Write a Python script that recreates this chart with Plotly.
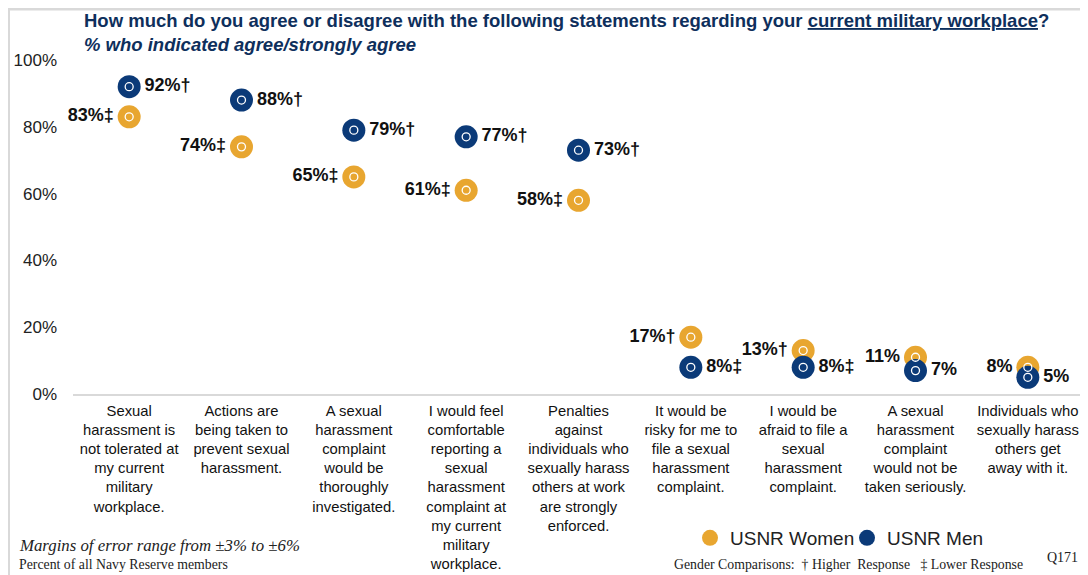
import plotly.graph_objects as go

statements = [
    "Sexual<br>harassment is<br>not tolerated at<br>my current<br>military<br>workplace.",
    "Actions are<br>being taken to<br>prevent sexual<br>harassment.",
    "A sexual<br>harassment<br>complaint<br>would be<br>thoroughly<br>investigated.",
    "I would feel<br>comfortable<br>reporting a<br>sexual<br>harassment<br>complaint at<br>my current<br>military<br>workplace.",
    "Penalties<br>against<br>individuals who<br>sexually harass<br>others at work<br>are strongly<br>enforced.",
    "It would be<br>risky for me to<br>file a sexual<br>harassment<br>complaint.",
    "I would be<br>afraid to file a<br>sexual<br>harassment<br>complaint.",
    "A sexual<br>harassment<br>complaint<br>would not be<br>taken seriously.",
    "Individuals who<br>sexually harass<br>others get<br>away with it.",
]
women = [83, 74, 65, 61, 58, 17, 13, 11, 8]
men = [92, 88, 79, 77, 73, 8, 8, 7, 5]
women_labels = ["83%‡", "74%‡", "65%‡", "61%‡", "58%‡", "17%†", "13%†", "11%", "8%"]
men_labels = ["92%†", "88%†", "79%†", "77%†", "73%†", "8%‡", "8%‡", "7%", "5%"]
y_ticks = [0, 20, 40, 60, 80, 100]

GOLD = "#E8A630"
NAVY = "#0B3A78"
TITLE = "#0E2F5C"
label_font = dict(family="Liberation Sans, Arial", size=18, color="#111111")

# the page puts the figure 8px in from the top-left corner
OFF = 8
W, H = 1088 - OFF, 575 - OFF
# plot area in page pixels: x 73..1084, y 60..394
L, R, T, B = 73, 1084, 60, 394


def px(x):
    return (x - L) / (R - L)


def py(y):
    return (B - y) / (B - T)


fig = go.Figure()

fig.add_trace(go.Scatter(
    x=statements, y=women, mode="markers+text", name="USNR Women",
    marker=dict(color=GOLD, size=23),
    text=["<b>%s</b>" % t for t in women_labels], textposition="middle left",
    textfont=label_font, cliponaxis=False, legend="legend",
))
fig.add_trace(go.Scatter(
    x=statements, y=men, mode="markers+text", name="USNR Men",
    marker=dict(color=NAVY, size=23),
    text=["<b>%s</b>" % t for t in men_labels], textposition="middle right",
    textfont=label_font, cliponaxis=False, legend="legend2",
))
# small white rings in the middle of the dots
for vals in (women, men):
    fig.add_trace(go.Scatter(
        x=statements, y=vals, mode="markers", showlegend=False, hoverinfo="skip",
        marker=dict(symbol="circle-open", size=8, color="white", line=dict(width=1.3)),
        cliponaxis=False,
    ))

legend_style = dict(
    orientation="h", y=py(538), xanchor="left", yanchor="middle",
    font=dict(size=19, color="#222222"), itemwidth=30,
    bgcolor="rgba(0,0,0,0)",
)
fig.update_layout(
    width=W, height=H,
    margin=dict(l=L - OFF, r=1088 - R, t=T - OFF, b=575 - B, autoexpand=False),
    plot_bgcolor="white", paper_bgcolor="white",
    font=dict(family="Liberation Sans, Arial", color="#222222"),
    legend=dict(x=px(690), **legend_style),
    legend2=dict(x=px(847), **legend_style),
)
fig.update_xaxes(
    range=[-0.5, len(statements) - 0.5],
    showgrid=False, showline=True, linecolor="#d9d9d9", linewidth=1.5,
    ticks="", tickfont=dict(size=14.8, color="#111111"), ticklabelstandoff=2,
    automargin=False,
)
fig.update_yaxes(
    range=[0, 100], tickvals=y_ticks, ticktext=["%d%%" % v for v in y_ticks],
    showgrid=False, zeroline=False, showline=False, ticks="",
    tickfont=dict(size=17, color="#222222"), ticklabelstandoff=15,
    automargin=False,
)

# light frame around the slide (as close to the corner as the page allows)
fig.add_shape(type="line", xref="paper", yref="paper",
              x0=px(OFF), x1=px(1088), y0=py(OFF + 1), y1=py(OFF + 1),
              line=dict(color="#d9d9d9", width=3))
fig.add_shape(type="line", xref="paper", yref="paper",
              x0=px(OFF + 1), x1=px(OFF + 1), y0=py(OFF), y1=py(575),
              line=dict(color="#d9d9d9", width=2))

fig.add_annotation(
    text="<b>How much do you agree or disagree with the following statements regarding your "
         "<u>current military workplace</u>?</b>",
    xref="paper", yref="paper", x=px(82), y=py(21),
    xanchor="left", yanchor="middle", showarrow=False,
    font=dict(size=18.5, color=TITLE),
)
fig.add_annotation(
    text="<b><i>% who indicated agree/strongly agree</i></b>",
    xref="paper", yref="paper", x=px(82), y=py(44),
    xanchor="left", yanchor="middle", showarrow=False,
    font=dict(size=18.5, color=TITLE),
)
serif = "Liberation Serif, Times New Roman"
fig.add_annotation(
    text="<i>Margins of error range from ±3% to ±6%</i>",
    xref="paper", yref="paper", x=px(17), y=py(545),
    xanchor="left", yanchor="middle", showarrow=False,
    font=dict(family=serif, size=16.8, color="#222222"),
)
fig.add_annotation(
    text="Percent of all Navy Reserve members",
    xref="paper", yref="paper", x=px(17), y=py(564),
    xanchor="left", yanchor="middle", showarrow=False,
    font=dict(family=serif, size=13.8, color="#222222"),
)
fig.add_annotation(
    text="Gender Comparisons:  † Higher  Response   ‡ Lower Response",
    xref="paper", yref="paper", x=px(672), y=py(564),
    xanchor="left", yanchor="middle", showarrow=False,
    font=dict(family=serif, size=13.8, color="#222222"),
)
fig.add_annotation(
    text="Q171",
    xref="paper", yref="paper", x=px(1080), y=py(557),
    xanchor="right", yanchor="middle", showarrow=False,
    font=dict(family=serif, size=14, color="#222222"),
)

fig.write_html("out.html")
